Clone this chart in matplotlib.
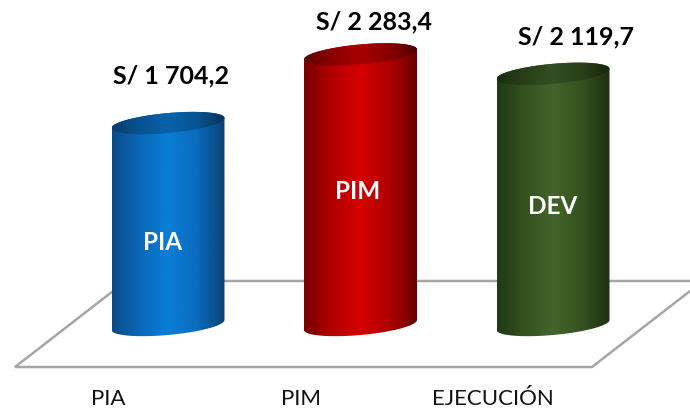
import numpy as np
import matplotlib.pyplot as plt
from matplotlib.path import Path
from matplotlib.patches import PathPatch, Polygon
from matplotlib.colors import LinearSegmentedColormap

# data
categories = ["PIA", "PIM", "EJECUCIÓN"]
bar_tags = ["PIA", "PIM", "DEV"]
values = [1704.2, 2283.4, 2119.7]

# shading of each cylinder, left edge -> right edge
shades = [
    ["#0c4b86", "#0a69ba", "#0a7ed8", "#0a6cbd", "#0a4272"],
    ["#760000", "#b40000", "#d60000", "#b00000", "#6a0000"],
    ["#213a15", "#34521f", "#42652c", "#34521f", "#1d3212"],
]

# layout (pixels of the 690x411 picture)
PX_CAT = 192.5     # pixels between two cylinders
PX_VAL = 0.1185    # pixels per unit of value
X0, Y0 = 168, 325  # centre of the first cylinder base
half_w = 56.5 / PX_CAT
ell_b = 10 / PX_VAL
ell_k = 5 / PX_VAL


def fmt(v):
    s = f"{v:,.1f}"
    return "S/ " + s.replace(",", " ").replace(".", ",")


def ellipse(cx, cy, t):
    return cx + half_w * np.cos(t), cy + ell_b * np.sin(t) + ell_k * np.cos(t)


def gradient(ax, path, cmap, x0, x1, y0, y1, z, dark=1.0):
    patch = PathPatch(path, facecolor="none", edgecolor="none", zorder=z)
    ax.add_patch(patch)
    rgba = cmap(np.linspace(0, 1, 256))
    rgba[:, :3] *= dark
    im = ax.imshow(rgba[None, :, :], extent=[x0, x1, y0, y1], aspect="auto",
                   interpolation="bilinear", zorder=z)
    im.set_clip_path(patch)


fig = plt.figure(figsize=(6.9, 4.11), dpi=100)
ax = fig.add_axes([0, 0, 1, 1])
ax.axis("off")

# floor
fy0 = (Y0 - 367) / PX_VAL
fy1 = (Y0 - 281) / PX_VAL
floor = Polygon([((15 - X0) / PX_CAT, fy0), ((592 - X0) / PX_CAT, fy0),
                 ((703 - X0) / PX_CAT, fy1), ((126 - X0) / PX_CAT, fy1)],
                closed=True, facecolor="white", edgecolor="#a6a6a6", lw=1.8,
                zorder=1)
ax.add_patch(floor)

for i, v in enumerate(values):
    cx = i
    cmap = LinearSegmentedColormap.from_list(f"c{i}", shades[i])
    tb = np.linspace(np.pi, 2 * np.pi, 80)
    tt = np.linspace(0, np.pi, 80)
    bx, by = ellipse(cx, 0, tb)
    tx, ty = ellipse(cx, v, tt)
    verts = np.column_stack([np.concatenate([bx, tx]), np.concatenate([by, ty])])
    body = Path(np.vstack([verts, verts[:1]]), closed=True)
    gradient(ax, body, cmap, cx - half_w, cx + half_w,
             -3 * ell_b, v + 3 * ell_b, 3)
    t = np.linspace(0, 2 * np.pi, 160)
    ex, ey = ellipse(cx, v, t)
    top = Path(np.column_stack([ex, ey]), closed=True)
    gradient(ax, top, cmap, cx - half_w, cx + half_w,
             v - 3 * ell_b, v + 3 * ell_b, 4, dark=0.78)

    ax.text(cx + 0.015 + 0.053 * i, v * 0.7876 + 759, fmt(v),
            ha="center", va="center", fontsize=18, fontweight="bold",
            family="Lato", color="black", zorder=6)
    ax.text(cx - 0.03 + 0.015 * i, v * 0.7326 - 549, bar_tags[i],
            ha="center", va="center", fontsize=17.5, fontweight="bold",
            family="Lato", color="white", zorder=6)
    ax.text(cx - 0.31, (Y0 - 399) / PX_VAL, categories[i],
            ha="center", va="center", fontsize=16, family="Lato",
            color="#111111", zorder=6)

ax.set_xlim(-X0 / PX_CAT, (690 - X0) / PX_CAT)
ax.set_ylim((Y0 - 411) / PX_VAL, Y0 / PX_VAL)

fig.savefig("out.png", dpi=100)
